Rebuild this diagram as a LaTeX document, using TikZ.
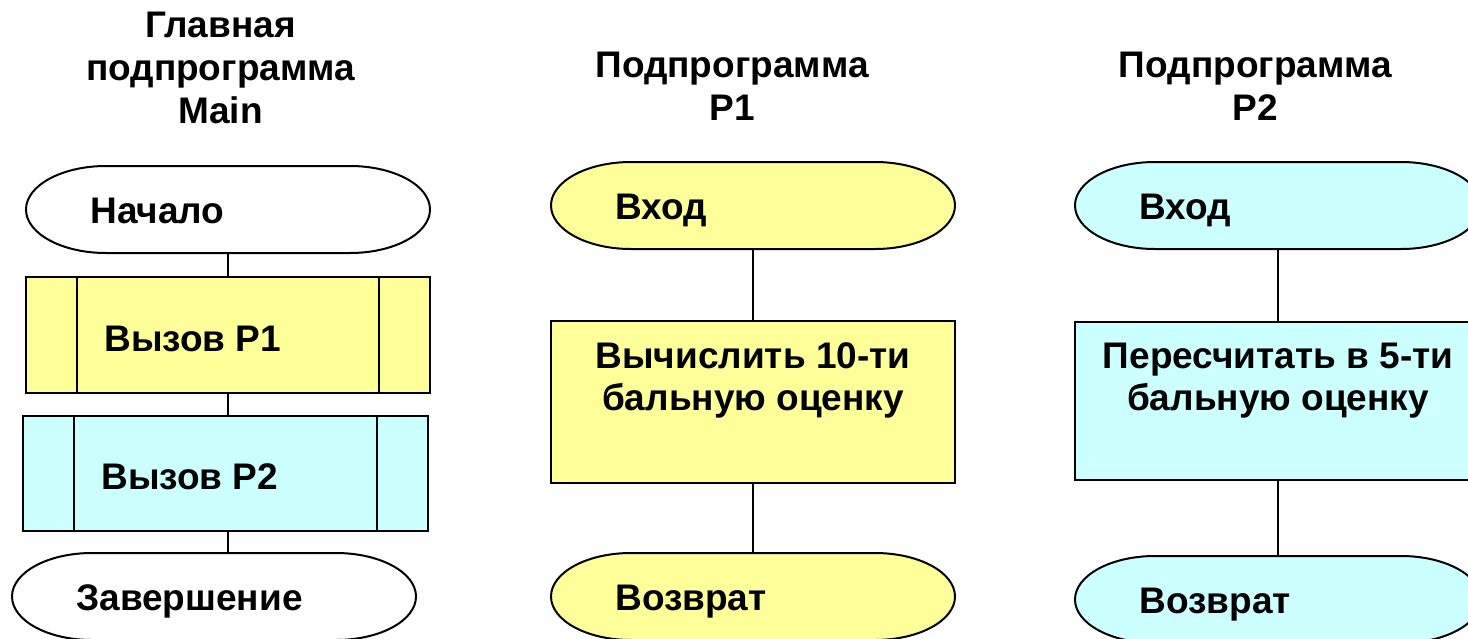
\documentclass[tikz,border=0pt]{standalone}
\usepackage{fontspec}
\setmainfont{Liberation Sans}
\usetikzlibrary{calc}

\definecolor{pOneFill}{HTML}{FFFF99}
\definecolor{pTwoFill}{HTML}{CCFFFF}

\tikzset{
  shapebox/.style={rectangle, inner sep=0pt, outer sep=0pt},
  outline/.style={draw=black, line width=1pt},
  flowline/.style={draw=black, line width=1pt},
  blocktext/.style={font=\bfseries\fontsize{18.5}{21}\selectfont, inner sep=0pt},
  headtext/.style={font=\bfseries\fontsize{18.5}{21.5}\selectfont, align=center, inner sep=0pt, anchor=north},
}

% terminal block: name, centre x, centre y, width, height, fill, text
\newcommand\terminal[7]{%
  \node[shapebox, minimum width={#4*0.5pt}, minimum height={#5*0.5pt}] (#1) at (#2,#3) {};
  \path[outline, fill=#6] ($(#1.north west)+(40pt,0pt)$) -- ($(#1.north east)+(-40pt,0pt)$)
     arc[start angle=90, end angle=-90, x radius=40pt, y radius={#5*0.25pt}]
     -- ($(#1.south west)+(40pt,0pt)$)
     arc[start angle=270, end angle=90, x radius=40pt, y radius={#5*0.25pt}] -- cycle;
  \node[blocktext, anchor=base west] (#1-text) at ($(#1.west)+(64,14)$) {#7};
}

% predefined-process block (subroutine call) with side bars
\newcommand\callbox[7]{%
  \node[shapebox, outline, fill=#6, minimum width={#4*0.5pt}, minimum height={#5*0.5pt}] (#1) at (#2,#3) {};
  \draw[outline] ($(#1.north west)+(51,0)$) -- ($(#1.south west)+(51,0)$);
  \draw[outline] ($(#1.north east)+(-51,0)$) -- ($(#1.south east)+(-51,0)$);
  \node[blocktext, anchor=base west] (#1-text) at ($(#1.west)+(78,16)$) {#7};
}

% plain process block, text set from the top
\newcommand\procbox[7]{%
  \node[shapebox, outline, fill=#6, minimum width={#4*0.5pt}, minimum height={#5*0.5pt}] (#1) at (#2,#3) {};
  \node[blocktext, align=center, anchor=north] (#1-text) at ($(#1.north)+(0,21)$) {#7};
}

\begin{document}
\begin{tikzpicture}[x=0.5pt, y=-0.5pt]
  \useasboundingbox (0,0) rectangle (1468,638);
  \clip (0,0) rectangle (1468,638);

  % column headings
  \node[headtext] (hdr-main) at (220.5,12) {Главная\\подпрограмма\\Main};
  \node[headtext] (hdr-p1) at (732,51.5) {Подпрограмма\\P1};
  \node[headtext] (hdr-p2) at (1255.5,51.5) {Подпрограмма\\P2};

  % main routine
  \terminal{start}{228}{209.5}{404}{87}{white}{Начало}
  \callbox{callA}{228}{335}{404}{116}{pOneFill}{Вызов P1}
  \callbox{callB}{225.5}{473.5}{405}{115}{pTwoFill}{Вызов P2}
  \terminal{finish}{214}{596.5}{404}{87}{white}{Завершение}

  \draw[flowline] (start.south) -- (callA.north);
  \draw[flowline] (callA.south) -- (callB.north -| callA.south);
  \draw[flowline] (callB.south -| callA.south) -- (finish.north -| callA.south);

  % subroutine P1
  \terminal{pOneIn}{753}{205.5}{404}{87}{pOneFill}{Вход}
  \procbox{pOneCalc}{753}{402}{404}{162}{pOneFill}{Вычислить 10-ти\\бальную оценку}
  \terminal{pOneOut}{753}{596.5}{404}{87}{pOneFill}{Возврат}

  \draw[flowline] (pOneIn.south) -- (pOneCalc.north);
  \draw[flowline] (pOneCalc.south) -- (pOneOut.north);

  % subroutine P2
  \terminal{pTwoIn}{1278}{205.5}{406}{87}{pTwoFill}{Вход}
  \procbox{pTwoCalc}{1278}{401}{406}{158}{pTwoFill}{Пересчитать в 5-ти\\бальную оценку}
  \terminal{pTwoOut}{1278}{599.5}{406}{87}{pTwoFill}{Возврат}

  \draw[flowline] (pTwoIn.south) -- (pTwoCalc.north);
  \draw[flowline] (pTwoCalc.south) -- (pTwoOut.north);
\end{tikzpicture}
\end{document}
